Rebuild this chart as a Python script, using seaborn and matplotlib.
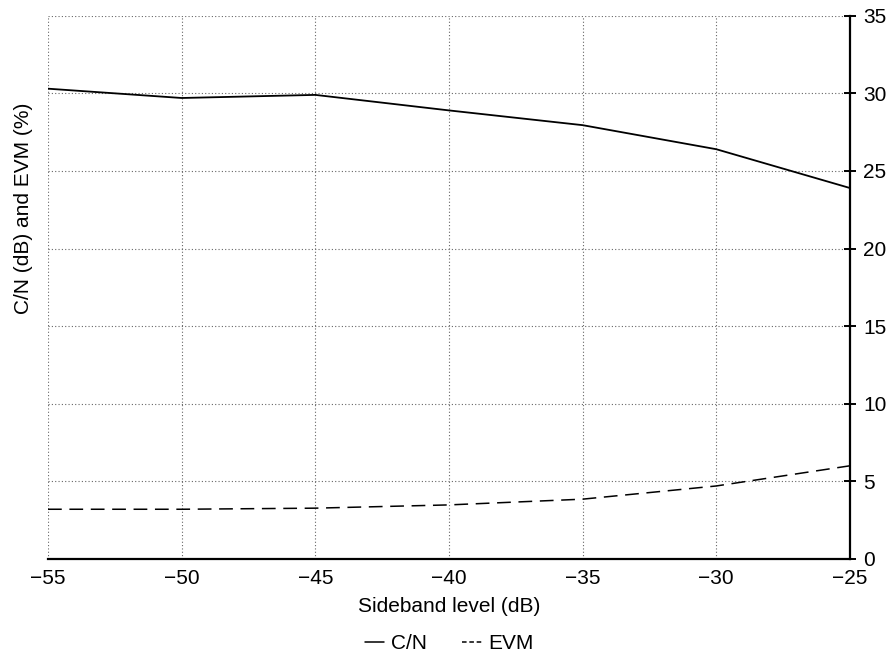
import pandas as pd
import seaborn as sns
import matplotlib
matplotlib.use("Agg")
import matplotlib.pyplot as plt
from matplotlib.lines import Line2D

sideband = [-55, -50, -45, -40, -35, -30, -25]
cn_db = [30.3, 29.7, 29.9, 28.9, 27.95, 26.4, 23.9]
evm_pct = [3.2, 3.2, 3.27, 3.48, 3.85, 4.7, 6.0]

sns.set_style("white")
plt.rcParams["font.family"] = ["Liberation Sans", "DejaVu Sans"]
plt.rcParams["axes.unicode_minus"] = True
plt.rcParams["text.color"] = "black"
plt.rcParams["axes.labelcolor"] = "black"

fig = plt.figure(figsize=(8.89, 6.56), dpi=100)
ax = fig.add_axes([0.054, 0.148, 0.902, 0.828])

sns.lineplot(x=sideband, y=cn_db, ax=ax, color="black", lw=1.3)
sns.lineplot(x=sideband, y=evm_pct, ax=ax, color="black", lw=1.1,
             linestyle=(0, (9, 5)))

ax.set_xlim(-55, -25)
ax.set_ylim(0, 35)
ax.set_xticks(range(-55, -24, 5))
ax.set_yticks(range(0, 36, 5))
ax.set_xticklabels([f"\u2212{abs(v)}" for v in range(-55, -24, 5)])

ax.grid(True, linestyle=(0, (1, 2)), color="#666666", lw=0.8)
for s in ["left", "top"]:
    ax.spines[s].set_visible(False)
for s in ["bottom", "right"]:
    ax.spines[s].set_color("black")
    ax.spines[s].set_linewidth(1.6)

ax.yaxis.tick_right()
ax.tick_params(axis="both", direction="inout", length=9, width=1.4,
               labelsize=15, colors="black")
ax.tick_params(axis="x", pad=3)
ax.tick_params(axis="y", pad=5)

ax.set_xlabel("Sideband level (dB)", fontsize=15, labelpad=6)
ax.set_ylabel("C/N (dB) and EVM (%)", fontsize=15)
ax.yaxis.set_label_position("left")
ax.yaxis.set_label_coords(-0.019, 0.646)

handles = [Line2D([], [], color="black", lw=1.1),
           Line2D([], [], color="black", lw=1.1, linestyle=(0, (3, 1.8)))]
ax.legend(handles, ["C/N", "EVM"], loc="center",
          bbox_to_anchor=(0.5, -0.156), ncol=2, frameon=False, fontsize=15,
          handlelength=0.95, handletextpad=0.3, columnspacing=1.7,
          borderpad=0.1)

fig.savefig("out.png", dpi=100)
